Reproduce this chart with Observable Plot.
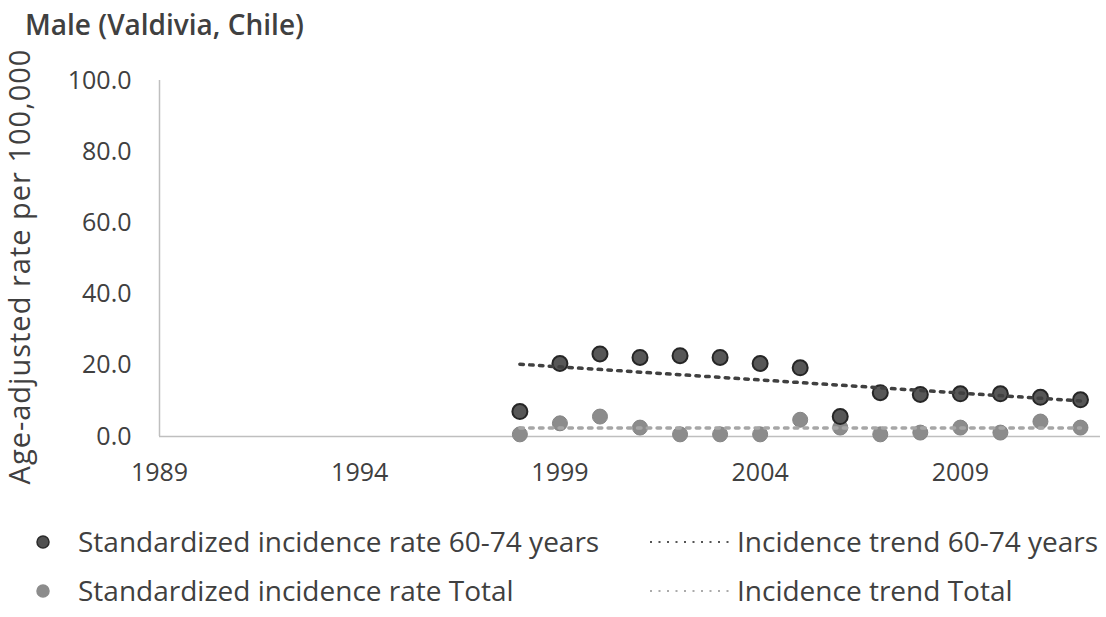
<!DOCTYPE html>
<html>
<head>
<meta charset="utf-8">
<script src="https://cdn.jsdelivr.net/npm/d3@7"></script>
<script src="https://cdn.jsdelivr.net/npm/@observablehq/plot@0.6"></script>
<style>
  body { margin: 0; background: #fff; }
  #wrap { position: relative; width: 1106px; height: 617px; font-family: "Open Sans", Lato, sans-serif; color: #404040; overflow: hidden; background: #fff; }
  #title { position: absolute; left: 25px; top: 10px; font-size: 28px; line-height: 28px; font-weight: 600; white-space: nowrap; z-index: 2; }
  #chart { position: absolute; left: 0; top: 40px; }
  #legend { position: absolute; left: 0; top: 500px; }
</style>
</head>
<body>
<div id="wrap">
  <div id="title">Male (Valdivia, Chile)</div>
  <div id="chart"></div>
  <div id="legend"></div>
</div>
<script>
// ---- data ----
const years = [1998, 1999, 2000, 2001, 2002, 2003, 2004, 2005, 2006, 2007, 2008, 2009, 2010, 2011, 2012];
const rate6074 = [7.0, 20.5, 23.2, 22.2, 22.7, 22.2, 20.5, 19.3, 5.6, 12.3, 11.8, 12.0, 12.0, 11.0, 10.3];
const rateTotal = [0.6, 3.7, 5.6, 2.5, 0.6, 0.6, 0.6, 4.7, 2.5, 0.6, 1.1, 2.5, 1.1, 4.2, 2.5];
const trendYears = [1998, 2012];
const trend6074 = [20.3, 10.0];
const trendTotal = [2.4, 2.4];
const xTicks = [1989, 1994, 1999, 2004, 2009];
const yTicks = [0, 20, 40, 60, 80, 100];
const yLabel = "Age-adjusted rate per 100,000";
const legendLabels = [
  "Standardized incidence rate 60-74 years",
  "Incidence trend 60-74 years",
  "Standardized incidence rate Total",
  "Incidence trend Total"
];

const FONT = "'Open Sans', Lato, sans-serif";
const pts6074 = years.map((y, i) => ({year: y, v: rate6074[i]}));
const ptsTotal = years.map((y, i) => ({year: y, v: rateTotal[i]}));
const tr6074 = trendYears.map((y, i) => ({year: y, v: trend6074[i]}));
const trTotal = trendYears.map((y, i) => ({year: y, v: trendTotal[i]}));

const chart = Plot.plot({
  width: 1106,
  height: 460,
  marginLeft: 159,
  marginRight: 6,
  marginTop: 40,
  marginBottom: 64,
  style: {fontFamily: FONT, fontSize: "25px", color: "#404040", background: "transparent"},
  x: {domain: [1989, 2012.5], ticks: xTicks, tickFormat: d => String(d), tickSize: 0, tickPadding: 27, label: null},
  y: {domain: [0, 100], ticks: yTicks, tickFormat: d => d.toFixed(1), tickSize: 0, tickPadding: 28, label: null},
  marks: [
    Plot.ruleX([1989], {stroke: "#bfbfbf", strokeWidth: 1.5}),
    Plot.ruleY([0], {stroke: "#bfbfbf", strokeWidth: 1.5}),
    Plot.dot(ptsTotal, {x: "year", y: "v", r: 7.5, fill: "#8c8c8c", stroke: "#858585", strokeWidth: 1}),
    Plot.dot(pts6074, {x: "year", y: "v", r: 7.5, fill: "#575757", stroke: "#262626", strokeWidth: 2}),
    Plot.line(trTotal, {x: "year", y: "v", stroke: "#a6a6a6", strokeWidth: 3.5, strokeDasharray: "3.5,6.3"}),
    Plot.line(tr6074, {x: "year", y: "v", stroke: "#404040", strokeWidth: 3.5, strokeDasharray: "3.5,6.3"}),
    Plot.text([yLabel], {frameAnchor: "left", textAnchor: "middle", dx: -139, dy: 8, rotate: -90, fontSize: 29, fill: "#404040"})
  ]
});
// slightly widen the axis title's letter spacing
chart.querySelectorAll("text").forEach(t => {
  if (t.textContent === yLabel) t.style.letterSpacing = "1px";
});
document.getElementById("chart").appendChild(chart);

// ---- legend (below the chart) ----
const leg = d3.select("#legend").append("svg")
  .attr("width", 1106).attr("height", 117)
  .style("font-family", FONT).style("font-size", "28px");
const rows = [42, 91]; // centre y of each row inside legend svg
const items = [
  {kind: "dot", fill: "#505050", stroke: "#2b2b2b", col: 0, row: 0},
  {kind: "line", stroke: "#555555", col: 1, row: 0},
  {kind: "dot", fill: "#8c8c8c", stroke: "#8c8c8c", col: 0, row: 1},
  {kind: "line", stroke: "#ababab", col: 1, row: 1}
];
items.forEach((it, i) => {
  const cy = rows[it.row];
  if (it.kind === "dot") {
    leg.append("circle").attr("cx", 43).attr("cy", cy).attr("r", 6)
      .attr("fill", it.fill).attr("stroke", it.stroke).attr("stroke-width", 1.5);
    leg.append("text").attr("x", 78).attr("y", cy).attr("dy", "0.36em")
      .attr("fill", "#404040").text(legendLabels[i]);
  } else {
    leg.append("line").attr("x1", 650).attr("x2", 735).attr("y1", cy).attr("y2", cy)
      .attr("stroke", it.stroke).attr("stroke-width", 2).attr("stroke-dasharray", "2,6.5");
    leg.append("text").attr("x", 737).attr("y", cy).attr("dy", "0.36em")
      .attr("fill", "#404040").text(legendLabels[i]);
  }
});
</script>
</body>
</html>
